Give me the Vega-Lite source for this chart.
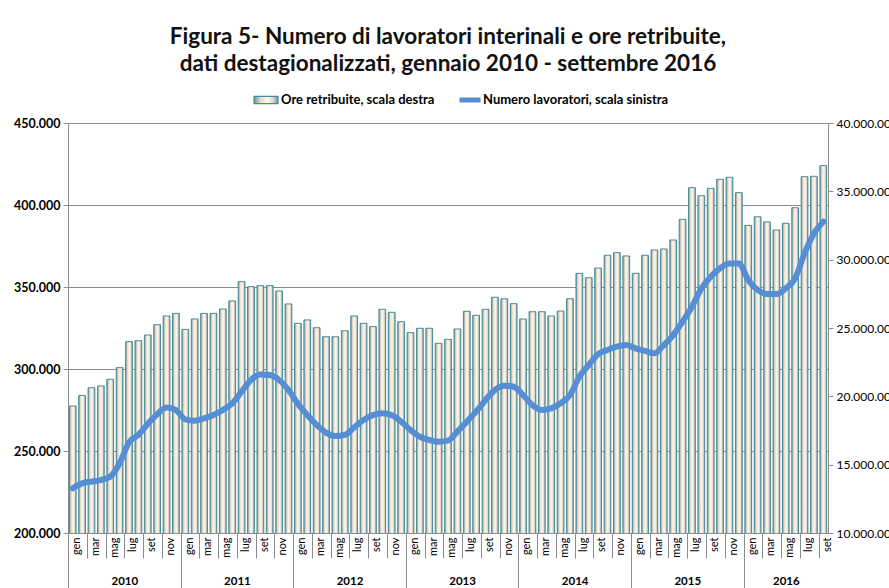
{
  "$schema": "https://vega.github.io/schema/vega-lite/v6.json",
  "width": 760,
  "height": 410,
  "autosize": {"type": "none"},
  "padding": {"left": 68, "top": 123, "right": 61, "bottom": 55},
  "background": "white",
  "title": {
    "text": ["Figura 5- Numero di lavoratori interinali e ore retribuite,", "dati destagionalizzati, gennaio 2010 - settembre 2016"],
    "font": "Lato",
    "fontSize": 22.5,
    "fontWeight": "bold",
    "color": "#111111",
    "anchor": "middle",
    "lineHeight": 27,
    "offset": 12
  },
  "data": {
    "values": [
      {"m": "2010-01", "ore": 19290000, "lav": 227300},
      {"m": "2010-02", "ore": 20070000, "lav": 230300},
      {"m": "2010-03", "ore": 20630000, "lav": 231300},
      {"m": "2010-04", "ore": 20760000, "lav": 232300},
      {"m": "2010-05", "ore": 21250000, "lav": 234300},
      {"m": "2010-06", "ore": 22100000, "lav": 242500},
      {"m": "2010-07", "ore": 24000000, "lav": 255300},
      {"m": "2010-08", "ore": 24070000, "lav": 259800},
      {"m": "2010-09", "ore": 24490000, "lav": 266500},
      {"m": "2010-10", "ore": 25240000, "lav": 272400},
      {"m": "2010-11", "ore": 25880000, "lav": 276600},
      {"m": "2010-12", "ore": 26070000, "lav": 275000},
      {"m": "2011-01", "ore": 24900000, "lav": 269300},
      {"m": "2011-02", "ore": 25660000, "lav": 268500},
      {"m": "2011-03", "ore": 26070000, "lav": 269900},
      {"m": "2011-04", "ore": 26070000, "lav": 271900},
      {"m": "2011-05", "ore": 26390000, "lav": 275000},
      {"m": "2011-06", "ore": 26980000, "lav": 279100},
      {"m": "2011-07", "ore": 28390000, "lav": 286200},
      {"m": "2011-08", "ore": 28020000, "lav": 293300},
      {"m": "2011-09", "ore": 28100000, "lav": 296700},
      {"m": "2011-10", "ore": 28100000, "lav": 296300},
      {"m": "2011-11", "ore": 27710000, "lav": 293300},
      {"m": "2011-12", "ore": 26760000, "lav": 287200},
      {"m": "2012-01", "ore": 25340000, "lav": 278800},
      {"m": "2012-02", "ore": 25590000, "lav": 271900},
      {"m": "2012-03", "ore": 25020000, "lav": 265900},
      {"m": "2012-04", "ore": 24360000, "lav": 261200},
      {"m": "2012-05", "ore": 24360000, "lav": 259100},
      {"m": "2012-06", "ore": 24800000, "lav": 259800},
      {"m": "2012-07", "ore": 25880000, "lav": 264400},
      {"m": "2012-08", "ore": 25340000, "lav": 268900},
      {"m": "2012-09", "ore": 25100000, "lav": 271900},
      {"m": "2012-10", "ore": 26370000, "lav": 273000},
      {"m": "2012-11", "ore": 26150000, "lav": 271900},
      {"m": "2012-12", "ore": 25460000, "lav": 267900},
      {"m": "2013-01", "ore": 24660000, "lav": 262800},
      {"m": "2013-02", "ore": 24980000, "lav": 258700},
      {"m": "2013-03", "ore": 24980000, "lav": 256700},
      {"m": "2013-04", "ore": 23880000, "lav": 255700},
      {"m": "2013-05", "ore": 24170000, "lav": 256300},
      {"m": "2013-06", "ore": 24930000, "lav": 261800},
      {"m": "2013-07", "ore": 26220000, "lav": 267900},
      {"m": "2013-08", "ore": 25930000, "lav": 274000},
      {"m": "2013-09", "ore": 26370000, "lav": 281100},
      {"m": "2013-10", "ore": 27250000, "lav": 287200},
      {"m": "2013-11", "ore": 27140000, "lav": 289800},
      {"m": "2013-12", "ore": 26780000, "lav": 289200},
      {"m": "2014-01", "ore": 25660000, "lav": 284100},
      {"m": "2014-02", "ore": 26190000, "lav": 278000},
      {"m": "2014-03", "ore": 26190000, "lav": 275000},
      {"m": "2014-04", "ore": 25880000, "lav": 276000},
      {"m": "2014-05", "ore": 26240000, "lav": 279100},
      {"m": "2014-06", "ore": 27140000, "lav": 284100},
      {"m": "2014-07", "ore": 29000000, "lav": 295300},
      {"m": "2014-08", "ore": 28680000, "lav": 302400},
      {"m": "2014-09", "ore": 29390000, "lav": 309100},
      {"m": "2014-10", "ore": 30320000, "lav": 311600},
      {"m": "2014-11", "ore": 30510000, "lav": 313600},
      {"m": "2014-12", "ore": 30270000, "lav": 314600},
      {"m": "2015-01", "ore": 29000000, "lav": 312600},
      {"m": "2015-02", "ore": 30320000, "lav": 311000},
      {"m": "2015-03", "ore": 30710000, "lav": 309600},
      {"m": "2015-04", "ore": 30780000, "lav": 314600},
      {"m": "2015-05", "ore": 31440000, "lav": 320700},
      {"m": "2015-06", "ore": 32950000, "lav": 328900},
      {"m": "2015-07", "ore": 35270000, "lav": 338000},
      {"m": "2015-08", "ore": 34680000, "lav": 349000},
      {"m": "2015-09", "ore": 35220000, "lav": 356300},
      {"m": "2015-10", "ore": 35880000, "lav": 361400},
      {"m": "2015-11", "ore": 36030000, "lav": 364400},
      {"m": "2015-12", "ore": 34900000, "lav": 364400},
      {"m": "2016-01", "ore": 32510000, "lav": 354300},
      {"m": "2016-02", "ore": 33140000, "lav": 348200},
      {"m": "2016-03", "ore": 32760000, "lav": 345700},
      {"m": "2016-04", "ore": 32170000, "lav": 345700},
      {"m": "2016-05", "ore": 32660000, "lav": 349200},
      {"m": "2016-06", "ore": 33800000, "lav": 355300},
      {"m": "2016-07", "ore": 36070000, "lav": 370500},
      {"m": "2016-08", "ore": 36100000, "lav": 382700},
      {"m": "2016-09", "ore": 36880000, "lav": 389800}
    ]
  },
  "layer": [
    {
      "mark": {
        "type": "bar",
        "clip": true,
        "width": {"band": 0.72},
        "strokeWidth": 1,
        "fill": {
          "x1": 0, "y1": 0, "x2": 1, "y2": 0,
          "gradient": "linear",
          "stops": [
            {"offset": 0, "color": "#5A98A7"},
            {"offset": 0.28, "color": "#EBDCC8"},
            {"offset": 0.55, "color": "#FFF7EE"},
            {"offset": 0.78, "color": "#EBDCC8"},
            {"offset": 1, "color": "#5A98A7"}
          ]
        }
      },
      "encoding": {
        "x": {
          "field": "m",
          "type": "ordinal",
          "scale": {"paddingInner": 0, "paddingOuter": 0.001},
          "axis": {
            "orient": "bottom",
            "title": null,
            "values": ["2010-01","2010-03","2010-05","2010-07","2010-09","2010-11","2011-01","2011-03","2011-05","2011-07","2011-09","2011-11","2012-01","2012-03","2012-05","2012-07","2012-09","2012-11","2013-01","2013-03","2013-05","2013-07","2013-09","2013-11","2014-01","2014-03","2014-05","2014-07","2014-09","2014-11","2015-01","2015-03","2015-05","2015-07","2015-09","2015-11","2016-01","2016-03","2016-05","2016-07","2016-09"],
            "labelExpr": "['gen','feb','mar','apr','mag','giu','lug','ago','set','ott','nov','dic'][toNumber(slice(datum.value, 5, 7)) - 1]",
            "tickOffset": -4.69,
            "labelAngle": -90,
            "labelOffset": 8.5,
            "labelPadding": -21,
            "labelOverlap": false,
            "labelFont": "Lato",
            "labelFontSize": 11,
            "labelColor": "#000000",
            "tickSize": 25,
            "tickColor": "#8C8C8C",
            "domainColor": "#8C8C8C",
            "grid": false
          }
        },
        "y": {
          "field": "ore",
          "type": "quantitative",
          "scale": {"domain": [10000000, 40000000], "nice": false, "zero": false},
          "axis": {
            "orient": "right",
            "title": null,
            "values": [10000000, 15000000, 20000000, 25000000, 30000000, 35000000, 40000000],
            "format": ",.0f",
            "grid": false,
            "labelFont": "Lato",
            "labelFontSize": 12,
            "labelColor": "#000000",
            "tickSize": 5,
            "tickColor": "#8C8C8C",
            "domainColor": "#8C8C8C",
            "labelPadding": 3
          }
        },
        "stroke": {
          "datum": "Ore retribuite, scala destra",
          "scale": {"range": ["#4A8A9A"]},
          "legend": {
            "orient": "none",
            "legendX": 185,
            "legendY": -36,
            "title": null,
            "symbolType": "M-1,-0.3H1V0.3H-1Z",
            "symbolSize": 576,
            "symbolFillColor": "#FBEBD8",
            "symbolStrokeWidth": 1.2,
            "labelFont": "Lato",
            "labelFontSize": 13,
            "labelFontWeight": "bold",
            "labelColor": "#000000",
            "labelOffset": 2,
            "labelLimit": 300
          }
        }
      }
    },
    {
      "mark": {"type": "line", "strokeWidth": 6, "interpolate": "monotone", "strokeCap": "round"},
      "encoding": {
        "x": {
          "field": "m",
          "type": "ordinal",
          "axis": {
            "orient": "bottom",
            "title": null,
            "values": ["2010-01", "2011-01", "2012-01", "2013-01", "2014-01", "2015-01", "2016-01"],
            "labelExpr": "slice(datum.value, 0, 4)",
            "tickOffset": -4.69,
            "labelAngle": 0,
            "labelAlign": "center",
            "labelBaseline": "top",
            "labelOffset": {"condition": {"test": "datum.value == '2016-01'", "value": 42.3}, "value": 56.3},
            "labelPadding": -13,
            "labelOverlap": false,
            "labelFont": "Lato",
            "labelFontSize": 11.5,
            "labelFontWeight": "bold",
            "labelColor": "#000000",
            "tickSize": 55,
            "tickColor": "#8C8C8C",
            "domain": false,
            "grid": false
          }
        },
        "y": {
          "field": "lav",
          "type": "quantitative",
          "scale": {"domain": [200000, 450000], "nice": false, "zero": false},
          "axis": {
            "orient": "left",
            "title": null,
            "values": [200000, 250000, 300000, 350000, 400000, 450000],
            "format": ",.0f",
            "grid": true,
            "gridColor": "#8C8C8C",
            "gridOpacity": 1,
            "labelFont": "Lato",
            "labelFontSize": 12.5,
            "labelFontWeight": "bold",
            "labelColor": "#000000",
            "tickSize": 5,
            "tickColor": "#8C8C8C",
            "domainColor": "#8C8C8C",
            "labelPadding": 3
          }
        },
        "stroke": {
          "datum": "Numero lavoratori, scala sinistra",
          "scale": {"range": ["#558ED5"]},
          "legend": {
            "orient": "none",
            "legendX": 389,
            "legendY": -36,
            "title": null,
            "symbolType": "stroke",
            "symbolSize": 441,
            "symbolStrokeWidth": 5,
            "labelFont": "Lato",
            "labelFontSize": 13,
            "labelFontWeight": "bold",
            "labelColor": "#000000",
            "labelOffset": 0,
            "labelLimit": 300
          }
        }
      }
    }
  ],
  "resolve": {
    "scale": {"y": "independent", "stroke": "independent"},
    "axis": {"x": "independent", "y": "independent"},
    "legend": {"stroke": "independent"}
  },
  "config": {
    "locale": {
      "number": {"decimal": ",", "thousands": ".", "grouping": [3], "currency": ["€", ""]}
    },
    "view": {"stroke": null},
    "axis": {"labelFont": "Lato"}
  }
}
